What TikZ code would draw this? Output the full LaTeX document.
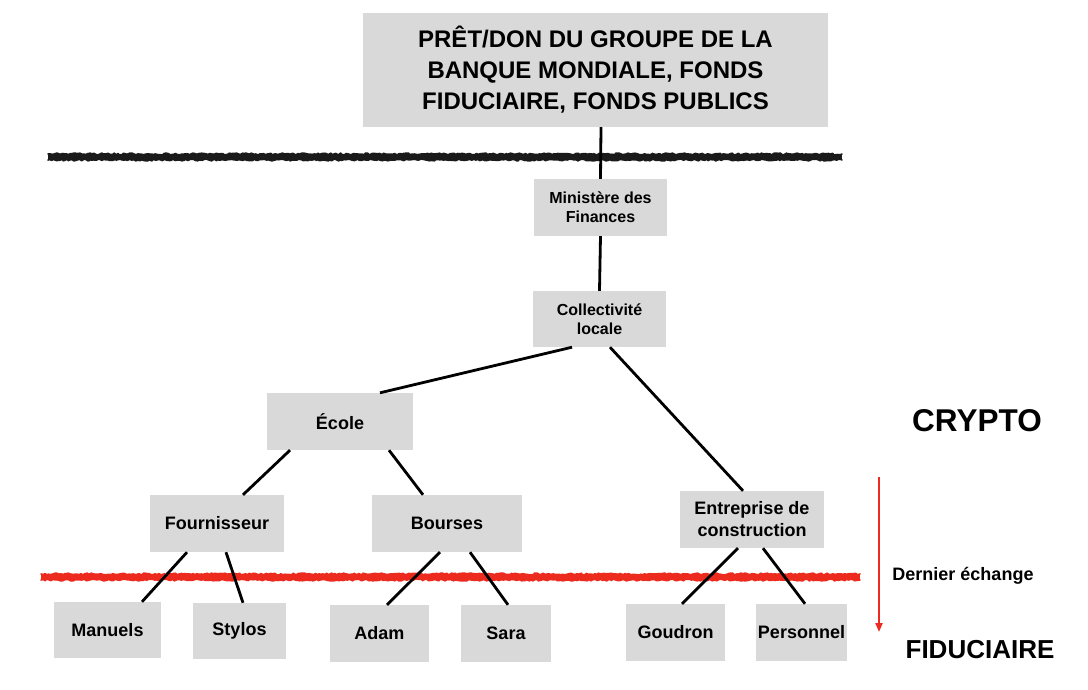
\documentclass[tikz,border=0pt]{standalone}
\usepackage{fontspec}
\setmainfont{Liberation Sans}
\usetikzlibrary{decorations.pathmorphing,arrows.meta}
\definecolor{boxgray}{HTML}{D9D9D9}
\definecolor{rough}{HTML}{1A1A1A}
\definecolor{redline}{HTML}{EC2A1E}
\tikzset{
  box/.style={fill=boxgray, inner sep=0pt, align=center, font=\bfseries\fontsize{18}{22}\selectfont},
  smallbox/.style={box, font=\bfseries\fontsize{16}{19}\selectfont},
  conn/.style={draw=black, line width=2.8pt},
  band/.style={line width=6pt},
  fuzz/.style={line width=1.6pt, line join=round, line cap=round, decorate, decoration={random steps, segment length=2pt, amplitude=0.9pt}},
  sidelabel/.style={font=\bfseries, inner sep=0pt}
}
\begin{document}
\begin{tikzpicture}[x=1pt,y=-1pt]
\path[use as bounding box] (0,0) rectangle (1088,689);
\pgfmathsetseed{7}
% rough horizontal lines
\draw[band, draw=rough] (48,157) -- (842,157);
\draw[fuzz, draw=rough] (48,154) -- (842,154);
\draw[fuzz, draw=rough] (48,160) -- (842,160);
\draw[band, draw=redline] (41,577) -- (860,577);
\draw[fuzz, draw=redline] (41,574) -- (860,574);
\draw[fuzz, draw=redline] (41,580) -- (860,580);
% nodes
\node[box, minimum width=465pt, minimum height=114pt, font=\bfseries\fontsize{24}{31}\selectfont] (top) at (595.5,70) {PRÊT/DON DU GROUPE DE LA\\BANQUE MONDIALE, FONDS\\FIDUCIAIRE, FONDS PUBLICS};
\node[smallbox, minimum width=133pt, minimum height=57pt] (min) at (600.5,207.5) {Ministère des\\Finances};
\node[smallbox, minimum width=133pt, minimum height=56pt] (col) at (599.5,319) {Collectivité\\locale};
\node[box, minimum width=146pt, minimum height=57pt] (ecole) at (340,421.5) {École};
\node[box, minimum width=134pt, minimum height=57pt] (four) at (217,523.5) {Fournisseur};
\node[box, minimum width=150pt, minimum height=57pt] (bourses) at (447,523.5) {Bourses};
\node[box, minimum width=144pt, minimum height=57pt] (ent) at (752,519.5) {Entreprise de\\construction};
\node[box, minimum width=107pt, minimum height=56pt] (man) at (107.5,630) {Manuels};
\node[box, minimum width=93pt, minimum height=56pt] (sty) at (239.5,631) {Stylos};
\node[box, minimum width=99pt, minimum height=57pt] (adam) at (379.5,633.5) {Adam};
\node[box, minimum width=90pt, minimum height=57pt] (sara) at (506,633.5) {Sara};
\node[box, minimum width=99pt, minimum height=57pt] (goud) at (675.5,632.5) {Goudron};
\node[box, minimum width=91pt, minimum height=57pt] (pers) at (801.5,632.5) {Personnel};
% connectors
\draw[conn] ([xshift=5.5pt]top.south) -- (min.north);
\draw[conn] (min.south) -- (col.north);
\draw[conn] ([xshift=-27.5pt]col.south) -- ([xshift=40pt]ecole.north);
\draw[conn] ([xshift=10.5pt]col.south) -- ([xshift=-9pt]ent.north);
\draw[conn] ([xshift=-50pt]ecole.south) -- ([xshift=26pt]four.north);
\draw[conn] ([xshift=49pt]ecole.south) -- ([xshift=-24pt]bourses.north);
\draw[conn] ([xshift=-30pt]four.south) -- ([xshift=34.5pt]man.north);
\draw[conn] ([xshift=9pt]four.south) -- ([xshift=3.5pt]sty.north);
\draw[conn] ([xshift=-7pt]bourses.south) -- ([xshift=7.5pt]adam.north);
\draw[conn] ([xshift=23pt]bourses.south) -- ([xshift=2pt]sara.north);
\draw[conn] ([xshift=-14pt]ent.south) -- ([xshift=6.5pt]goud.north);
\draw[conn] ([xshift=11pt]ent.south) -- ([xshift=3.5pt]pers.north);
% side labels
\node[sidelabel, font=\bfseries\fontsize{31.5}{31.5}\selectfont] (crypto) at (977,421) {CRYPTO};
\node[sidelabel, font=\bfseries\fontsize{26}{26}\selectfont] (fid) at (980,650) {FIDUCIAIRE};
\node[sidelabel, font=\bfseries\fontsize{18}{20}\selectfont] (dern) at (963,576) {Dernier échange};
\coordinate (arrS) at (879,477);
\coordinate (arrE) at (879,632);
\draw[redline, line width=2pt, -{Triangle[length=9pt,width=7pt]}] (arrS) -- (arrE);
\end{tikzpicture}
\end{document}
